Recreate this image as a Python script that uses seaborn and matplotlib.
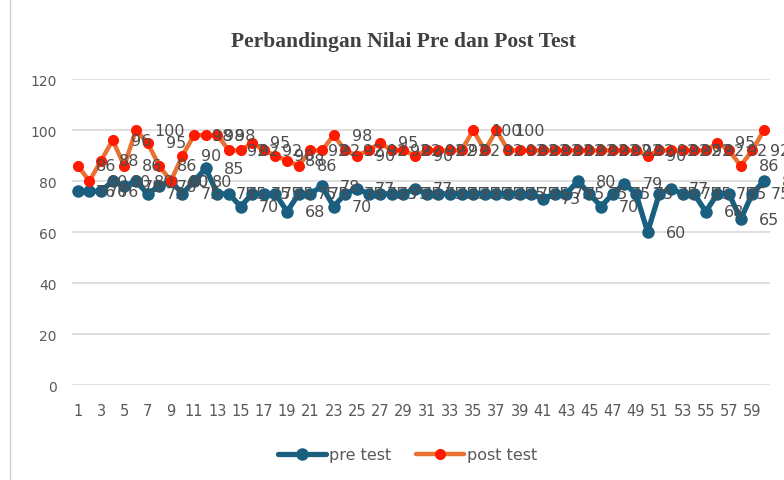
import matplotlib.pyplot as plt
import matplotlib.lines as mlines
import seaborn as sns
import pandas as pd

# Nomor siswa 1..60
students = list(range(1, 61))

pre_test = [76, 76, 76, 80, 78, 80, 75, 78, 80, 75,
            80, 85, 75, 75, 70, 75, 75, 75, 68, 75,
            75, 78, 70, 75, 77, 75, 75, 75, 75, 77,
            75, 75, 75, 75, 75, 75, 75, 75, 75, 75,
            73, 75, 75, 80, 75, 70, 75, 79, 75, 60,
            75, 77, 75, 75, 68, 75, 75, 65, 75, 80]

post_test = [86, 80, 88, 96, 86, 100, 95, 86, 80, 90,
             98, 98, 98, 92, 92, 95, 92, 90, 88, 86,
             92, 92, 98, 92, 90, 92, 95, 92, 92, 90,
             92, 92, 92, 92, 100, 92, 100, 92, 92, 92,
             92, 92, 92, 92, 92, 92, 92, 92, 92, 90,
             92, 92, 92, 92, 92, 95, 92, 86, 92, 100]

y_ticks = [0, 20, 40, 60, 80, 100, 120]
x_ticks = list(range(1, 61, 2))

PRE_COLOR = "#1a5e80"
POST_LINE = "#e97132"
POST_MARKER = "#ff1a00"
TEXT_GRAY = "#595959"

df = pd.DataFrame({"no": students, "pre test": pre_test, "post test": post_test})

sns.set_style("white")
plt.rcParams["font.family"] = ["DejaVu Sans"]

fig = plt.figure(figsize=(7.84, 4.81), dpi=100)
ax = fig.add_axes([0.0918, 0.1975, 0.890, 0.636])

sns.lineplot(data=df, x="no", y="pre test", ax=ax, color=PRE_COLOR, linewidth=3.8,
             marker="o", markersize=9, markeredgewidth=0, markerfacecolor=PRE_COLOR, zorder=3)
sns.lineplot(data=df, x="no", y="post test", ax=ax, color=POST_LINE, linewidth=3.2,
             marker="o", markersize=8, markeredgewidth=0, markerfacecolor=POST_MARKER, zorder=4)

# data labels to the right of each point
for col in ["pre test", "post test"]:
    for x, v in zip(df["no"], df[col]):
        ax.annotate(str(v), (x, v), xytext=(13, 0), textcoords="offset points",
                    ha="left", va="center", fontsize=11.5, color="#4d4d4d",
                    zorder=5, annotation_clip=False)

ax.set_xlim(0.5, 60.5)
ax.set_ylim(0, 120)
ax.set_yticks(y_ticks)
ax.set_xticks(x_ticks)
ax.set_xticklabels([str(t) for t in x_ticks], fontsize=10.5, color=TEXT_GRAY)
ax.set_yticklabels([str(t) for t in y_ticks], fontsize=10, color=TEXT_GRAY)
ax.grid(axis="y", color="#d9d9d9", linewidth=1.2)
ax.tick_params(axis="x", length=0, pad=13)
ax.tick_params(axis="y", length=0, pad=11)
ax.set_xlabel("")
ax.set_ylabel("")
for s in ax.spines.values():
    s.set_visible(False)

fig.text(0.514, 0.913, "Perbandingan Nilai Pre dan Post Test", ha="center", va="center",
         fontsize=15.5, color="#404040", family="Liberation Serif", fontweight="bold")

pre_handle = mlines.Line2D([], [], color=PRE_COLOR, linewidth=3.8, marker="o",
                           markersize=9, markerfacecolor=PRE_COLOR, markeredgewidth=0)
post_handle = mlines.Line2D([], [], color=POST_LINE, linewidth=3.2, marker="o",
                            markersize=8, markerfacecolor=POST_MARKER, markeredgewidth=0)
fig.legend([pre_handle, post_handle], ["pre test", "post test"], loc="center",
           bbox_to_anchor=(0.52, 0.052), ncol=2, frameon=False, fontsize=11.5,
           handlelength=3, handletextpad=0.2, columnspacing=1.5, labelcolor=TEXT_GRAY)

# chart frame edge on the left
fig.add_artist(mlines.Line2D([0.013, 0.013], [0, 1], color="#d0d0d0", linewidth=1))

fig.savefig("out.png", dpi=100)
